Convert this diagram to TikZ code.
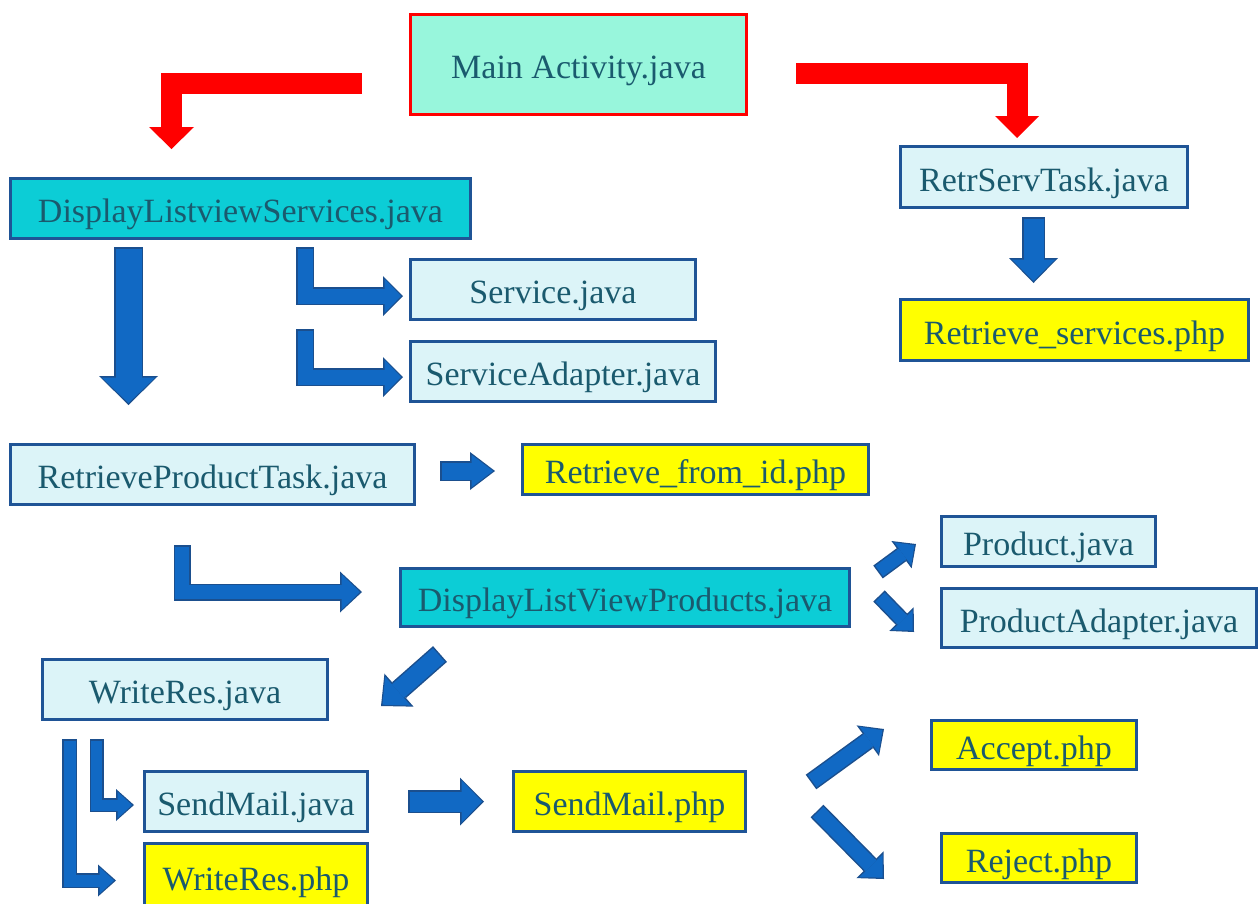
\documentclass[tikz,border=0pt]{standalone}
\usepackage{fontspec}
\setmainfont{Liberation Serif}
\usetikzlibrary{arrows.meta}

\definecolor{mint}{HTML}{98F6DC}
\definecolor{turq}{HTML}{0CCDD6}
\definecolor{paleblue}{HTML}{DCF4F8}
\definecolor{phpyellow}{HTML}{FFFF00}
\definecolor{boxline}{HTML}{1F5496}
\definecolor{labeltext}{HTML}{1A5A6E}
\definecolor{arrowbody}{HTML}{1169C4}
\definecolor{arrowedge}{HTML}{1B4F8E}
\definecolor{flowred}{HTML}{FF0000}

\tikzset{
  box/.style={draw=boxline, line width=3pt, text=labeltext, inner sep=0pt,
    text height=28pt, text depth=0pt,
    font=\fontsize{34}{38}\selectfont},
  palebox/.style={box, fill=paleblue},
  turqbox/.style={box, fill=turq},
  phpbox/.style={box, fill=phpyellow},
  mainbox/.style={box, fill=mint, draw=flowred}
}

% filled block arrow with a darker rim: #1 body, #2 rim, #3 shaft width,
% #4 head length, #5 head width, #6 path
\newcommand\blockarrow[6]{%
  \pgfmathsetmacro\bkw{#3-3}%
  \pgfmathsetmacro\bkl{#4-3.5}%
  \pgfmathsetmacro\bkh{#5-5.5}%
  \draw[draw=#2, line width=#3pt, line join=miter,
    -{Triangle[length=#4pt, width=#5pt, line width=0pt]}] #6;
  \draw[draw=#1, line width=\bkw pt, line join=miter, shorten <=1.5pt, shorten >=2pt,
    -{Triangle[length=\bkl pt, width=\bkh pt, line width=0pt]}] #6;
}
% flat block arrow without rim
\newcommand\flatarrow[5]{%
  \draw[draw=#1, line width=#2pt, line join=miter,
    -{Triangle[length=#3pt, width=#4pt, line width=0pt]}] #5;
}

\begin{document}
\begin{tikzpicture}[x=1pt, y=-1pt]
\useasboundingbox (0,0) rectangle (1260,903);

% boxes
\node[mainbox, minimum width=336pt, minimum height=100pt] (main) at (578.5,64.5) {Main Activity.java};
\node[turqbox, minimum width=460pt, minimum height=60pt] (dls) at (240.5,208.5) {DisplayListviewServices.java};
\node[palebox, minimum width=287pt, minimum height=61pt] (rst) at (1044,177) {RetrServTask.java};
\node[phpbox, minimum width=348pt, minimum height=61pt] (rsp) at (1074.5,330) {Retrieve\_services.php};
\node[palebox, minimum width=285pt, minimum height=60pt] (svc) at (553,289.5) {Service.java};
\node[palebox, minimum width=305pt, minimum height=60pt] (sva) at (563,371.5) {ServiceAdapter.java};
\node[palebox, minimum width=404pt, minimum height=60pt] (rpt) at (212.5,474.5) {RetrieveProductTask.java};
\node[phpbox, minimum width=346pt, minimum height=50pt] (rfi) at (695.5,469.5) {Retrieve\_from\_id.php};
\node[palebox, minimum width=214pt, minimum height=50pt] (prd) at (1048.5,541.5) {Product.java};
\node[palebox, minimum width=315pt, minimum height=59pt] (pad) at (1099,618) {ProductAdapter.java};
\node[turqbox, minimum width=449pt, minimum height=58pt] (dlvp) at (625,597.5) {DisplayListViewProducts.java};
\node[palebox, minimum width=285pt, minimum height=60pt] (wrj) at (185,689.5) {WriteRes.java};
\node[palebox, minimum width=223pt, minimum height=60pt] (smj) at (256,801.5) {SendMail.java};
\node[phpbox, minimum width=223pt, minimum height=66pt] (wrp) at (256,876) {WriteRes.php};
\node[phpbox, minimum width=232pt, minimum height=60pt] (smp) at (629.5,801.5) {SendMail.php};
\node[phpbox, minimum width=205pt, minimum height=49pt] (acc) at (1034,745) {Accept.php};
\node[phpbox, minimum width=195pt, minimum height=49pt] (rej) at (1039,858) {Reject.php};

% arrow ends
\coordinate (rl-s) at (362,83.5);   \coordinate (rl-e) at (171.5,149);
\coordinate (rr-s) at (796,73.5);   \coordinate (rr-e) at (1017,138);
\coordinate (dn-s) at (128.5,247);  \coordinate (dn-e) at (128.5,405);
\coordinate (sv-s) at (305,247);    \coordinate (sv-e) at (403,296);
\coordinate (sa-s) at (305,329);    \coordinate (sa-e) at (403,377);
\coordinate (rs-s) at (1033.5,217); \coordinate (rs-e) at (1033.5,283);
\coordinate (rf-s) at (440,471);    \coordinate (rf-e) at (495,471);
\coordinate (pt-s) at (182,545);    \coordinate (pt-e) at (362,592);
\coordinate (pr-s) at (878,572);    \coordinate (pr-e) at (916,544);
\coordinate (pa-s) at (879,596);    \coordinate (pa-e) at (914,632);
\coordinate (wr-s) at (440,654);    \coordinate (wr-e) at (381,706);
\coordinate (wi-s) at (96.5,739);   \coordinate (wi-e) at (134,805);
\coordinate (wo-s) at (69.5,739);   \coordinate (wo-e) at (116,880.5);
\coordinate (sm-s) at (408,801.5);  \coordinate (sm-e) at (484,801.5);
\coordinate (ac-s) at (811,782);    \coordinate (ac-e) at (884,729);
\coordinate (rj-s) at (817,811);    \coordinate (rj-e) at (884,879);

% red arrows out of the main activity
\flatarrow{flowred}{21}{22}{45}{(rl-s) -| (rl-e)}
\flatarrow{flowred}{21}{22}{44}{(rr-s) -| (rr-e)}

% blue arrows
\blockarrow{arrowbody}{arrowedge}{29}{29}{59}{(dn-s) -- (dn-e)}
\blockarrow{arrowbody}{arrowedge}{18}{20}{40}{(sv-s) |- (sv-e)}
\blockarrow{arrowbody}{arrowedge}{18}{20}{40}{(sa-s) |- (sa-e)}
\blockarrow{arrowbody}{arrowedge}{23}{25}{49}{(rs-s) -- (rs-e)}
\blockarrow{arrowbody}{arrowedge}{20}{25}{38}{(rf-s) -- (rf-e)}
\blockarrow{arrowbody}{arrowedge}{17}{22}{41}{(pt-s) |- (pt-e)}
\blockarrow{arrowbody}{arrowedge}{16}{18}{34}{(pr-s) -- (pr-e)}
\blockarrow{arrowbody}{arrowedge}{16}{18}{34}{(pa-s) -- (pa-e)}
\blockarrow{arrowbody}{arrowedge}{21}{24}{44}{(wr-s) -- (wr-e)}
\blockarrow{arrowbody}{arrowedge}{14}{18}{32}{(wi-s) |- (wi-e)}
\blockarrow{arrowbody}{arrowedge}{15}{18}{32}{(wo-s) |- (wo-e)}
\blockarrow{arrowbody}{arrowedge}{23}{24}{48}{(sm-s) -- (sm-e)}
\blockarrow{arrowbody}{arrowedge}{18}{20}{38}{(ac-s) -- (ac-e)}
\blockarrow{arrowbody}{arrowedge}{18}{20}{38}{(rj-s) -- (rj-e)}
\end{tikzpicture}
\end{document}
